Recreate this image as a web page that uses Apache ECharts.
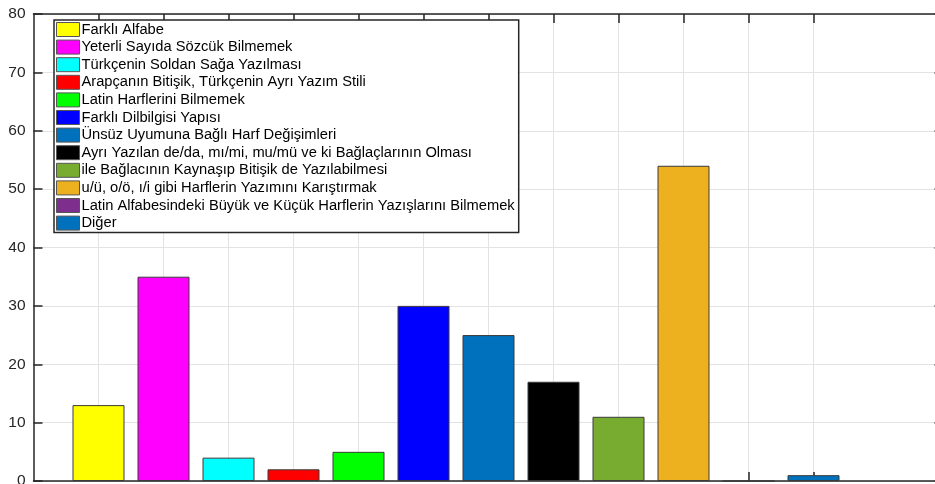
<!DOCTYPE html>
<html>
<head>
<meta charset="utf-8">
<script src="https://cdn.jsdelivr.net/npm/echarts@6/dist/echarts.min.js"></script>
<style>
  html, body { margin: 0; padding: 0; background: #fff; }
  #chart { width: 935px; height: 484px; }
</style>
</head>
<body>
<div id="chart"></div>
<script>
// Survey categories (legend entries), one bar per category
const categories = [
  'Farklı Alfabe',
  'Yeterli Sayıda Sözcük Bilmemek',
  'Türkçenin Soldan Sağa Yazılması',
  'Arapçanın Bitişik, Türkçenin Ayrı Yazım Stili',
  'Latin Harflerini Bilmemek',
  'Farklı Dilbilgisi Yapısı',
  'Ünsüz Uyumuna Bağlı Harf Değişimleri',
  'Ayrı Yazılan de/da, mı/mi, mu/mü ve ki Bağlaçlarının Olması',
  'ile Bağlacının Kaynaşıp Bitişik de Yazılabilmesi',
  'u/ü, o/ö, ı/i gibi Harflerin Yazımını Karıştırmak',
  'Latin Alfabesindeki Büyük ve Küçük Harflerin Yazışlarını Bilmemek',
  'Diğer'
];
// Bar heights
const values = [13, 35, 4, 2, 5, 30, 25, 17, 11, 54, 0, 1];
// Bar fill colours
const colors = [
  '#FFFF00', '#FF00FF', '#00FFFF', '#FF0000', '#00FF00', '#0000FF',
  '#0072BD', '#000000', '#77AC30', '#EDB120', '#7E2F8E', '#0072BD'
];
// Bar positions along x and the y tick labels
const xPositions = [1, 2, 3, 4, 5, 6, 7, 8, 9, 10, 11, 12];
const yTicks = [0, 10, 20, 30, 40, 50, 60, 70, 80];

const axisColor = '#262626';
const gridColor = '#e3e3e3';
const font = '"Liberation Sans", Arial, Helvetica, sans-serif';

const series = categories.map((name, i) => ({
  name: name,
  type: 'bar',
  xAxisIndex: 0,
  yAxisIndex: 0,
  barWidth: 52,
  barGap: '-100%',
  data: [[xPositions[i], values[i]]],
  itemStyle: { color: colors[i], borderColor: '#3a3a3a', borderWidth: 1 },
  emphasis: { disabled: true },
  animation: false
}));

const chart = echarts.init(document.getElementById('chart'), null, { renderer: 'canvas' });
chart.setOption({
  animation: false,
  grid: {
    left: 33.5, top: 14, width: 910, height: 467,
    containLabel: false, outerBoundsMode: 'none'
  },
  xAxis: [
    {
      type: 'value', position: 'bottom', min: 0, max: 14, interval: 1,
      axisLine: { show: true, lineStyle: { color: axisColor, width: 1.5 } },
      axisTick: { show: true, inside: true, length: 9, customValues: xPositions,
                  lineStyle: { color: axisColor, width: 1.5 } },
      axisLabel: { show: false },
      splitLine: { show: true, lineStyle: { color: gridColor, width: 1 } }
    },
    {
      type: 'value', position: 'top', min: 0, max: 14, interval: 1,
      axisLine: { show: true, onZero: false, lineStyle: { color: axisColor, width: 1.5 } },
      axisTick: { show: true, inside: true, length: 9, customValues: xPositions,
                  lineStyle: { color: axisColor, width: 1.5 } },
      axisLabel: { show: false },
      splitLine: { show: false }
    }
  ],
  yAxis: [
    {
      type: 'value', position: 'left', min: 0, max: 80, interval: 10,
      axisLine: { show: true, onZero: false, lineStyle: { color: axisColor, width: 1.5 } },
      axisTick: { show: true, inside: true, length: 9, lineStyle: { color: axisColor, width: 1.5 } },
      axisLabel: {
        show: true, margin: 8, color: axisColor, fontSize: 15.5, fontFamily: font,
        customValues: yTicks
      },
      splitLine: { show: true, lineStyle: { color: gridColor, width: 1 } }
    },
    {
      type: 'value', position: 'right', min: 0, max: 80, interval: 10,
      axisLine: { show: true, onZero: false, lineStyle: { color: axisColor, width: 1.5 } },
      axisTick: { show: true, inside: true, length: 9, lineStyle: { color: axisColor, width: 1.5 } },
      axisLabel: { show: false },
      splitLine: { show: false }
    }
  ],
  legend: {
    show: true,
    orient: 'vertical',
    left: 54,
    top: 20,
    padding: [2, 4, 2, 2],
    itemWidth: 23,
    itemHeight: 14,
    itemGap: 2.6,
    icon: 'rect',
    selectedMode: false,
    backgroundColor: '#ffffff',
    borderColor: axisColor,
    borderWidth: 1.5,
    borderRadius: 0,
    itemStyle: { borderColor: '#555555', borderWidth: 1 },
    textStyle: {
      color: '#000000', fontSize: 14.7, lineHeight: 15, fontFamily: font,
      padding: [0, 0, 0, -3]
    },
    data: categories
  },
  series: series
});
</script>
</body>
</html>
